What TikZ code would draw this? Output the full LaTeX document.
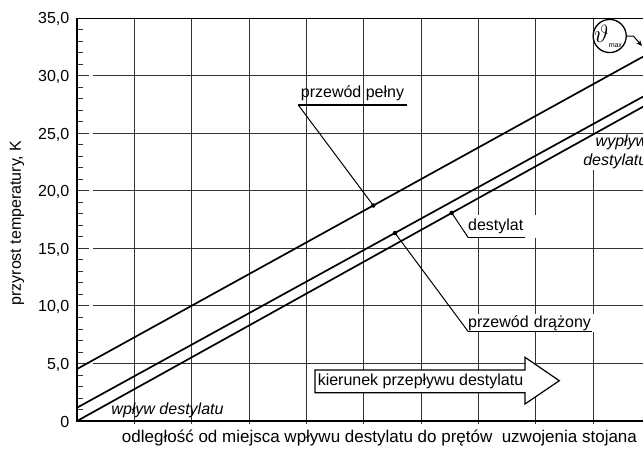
\documentclass[tikz,border=0pt]{standalone}
\usepackage{fontspec}
\setmainfont{Liberation Sans}
\usetikzlibrary{arrows.meta}
\begin{document}
\begin{tikzpicture}[x=1pt,y=-1pt, font=\fontsize{16}{19}\selectfont,
  gridline/.style={black!80, line width=0.9pt},
  dataline/.style={black, line width=1.7pt},
  leader/.style={black, line width=1pt},
  underl/.style={black, line width=1.3pt},
  lbl/.style={inner sep=1pt},
  boxlbl/.style={fill=white, inner xsep=2pt, inner ysep=0pt, align=left, anchor=west},
  ticklbl/.style={anchor=base east, inner sep=0pt},
  dotmark/.style={circle, fill=black, inner sep=0pt, minimum size=4.5pt}]
\useasboundingbox (0,0) rectangle (643,450);
\clip (0,0) rectangle (643,450);
\fill[white] (0,0) rectangle (643,450);

% grid
\foreach \i in {1,...,9} \draw[gridline] ({77+57.35*\i},18.3) -- ({77+57.35*\i},423.5);
\foreach \j in {1,...,6} \draw[gridline] (93,{421-57.53*\j}) -- (650,{421-57.53*\j});
\foreach \k in {1,...,34} \draw[gridline] (77,{421-11.506*\k}) -- (82.5,{421-11.506*\k});
\foreach \j in {1,...,6} \draw[gridline] (77,{421-57.53*\j}) -- (88.5,{421-57.53*\j});
\draw[line width=1.2pt] (77,18.3) -- (650,18.3);
\draw[line width=1.5pt] (77,18.3) -- (77,421);
\draw[line width=1.8pt] (76.2,421) -- (650,421);

% tick labels
\foreach \v/\j in {35/7,30/6,25/5,20/4,15/3,10/2,5/1}
  \node[ticklbl] (t\v) at (69.5,{421-57.53*\j+5.7}) {\v,0};
\node[ticklbl] (t0) at (69.5,427.2) {0};

% axis labels
\node[rotate=90] (ylab) at (17,223) {przyrost temperatury, K};
\node[font=\fontsize{17}{20}\selectfont] (xlab) at (379.5,438) {odległość od miejsca wpływu destylatu do prętów\ \ uzwojenia stojana};

% white label boxes
\node[boxlbl, text width=68pt, minimum height=23pt] (ldest) at (466,226) {destylat};
\node[boxlbl, text width=124pt, minimum height=18pt] (ldraz) at (466,323) {przewód drążony};
\node[fill=white, inner sep=1.5pt, align=right, anchor=east, font=\fontsize{16}{19}\selectfont\itshape] (lwyp) at (649,152) {wypływ\\destylatu};
\node[lbl] (lpeln) at (352.5,93) {przewód pełny};
\node[lbl, font=\fontsize{16}{19}\selectfont\itshape] (lwpl) at (167.5,410) {wpływ destylatu};

% data lines
\coordinate (a0) at (77,369);   \coordinate (a1) at (660,47.3);
\coordinate (b0) at (77,407.7); \coordinate (b1) at (660,87.3);
\coordinate (c0) at (77,421);   \coordinate (c1) at (660,97.3);
\draw[dataline] (a0) -- (a1);
\draw[dataline] (b0) -- (b1);
\draw[dataline] (c0) -- (c1);

% dots and leaders
\node[dotmark] (dp) at (373.3,205.5) {};
\node[dotmark] (dd) at (395,233.0) {};
\node[dotmark] (ds) at (451.7,212.9) {};
\coordinate (pa) at (298.3,105); \coordinate (pb) at (406.7,105);
\coordinate (sa) at (468.3,237.7); \coordinate (sb) at (525,237.7);
\coordinate (da) at (468.3,331.7); \coordinate (db) at (591.7,331.7);
\draw[leader] (dp.center) -- (pa); \draw[underl] (pa) -- (pb);
\draw[leader] (ds.center) -- (sa); \draw[underl] (sa) -- (sb);
\draw[leader] (dd.center) -- (da); \draw[underl] (da) -- (db);

% flow direction arrow
\draw[line width=1.2pt, fill=white] (315,370) -- (525,370) -- (525,357.3) -- (559.3,380.7)
  -- (525,404) -- (525,392.7) -- (315,392.7) -- cycle;
\node[inner sep=0pt] (kier) at (420.5,381.3) {kierunek przepływu destylatu};

% theta max marker
\node[circle, draw, fill=white, line width=1.3pt, minimum size=29pt, inner sep=0pt] (th) at (609.7,36)
  {\hspace{-3pt}\fontsize{24}{24}\selectfont$\vartheta$\raisebox{-5pt}{\fontsize{7}{7}\selectfont max}};
\coordinate (thk) at (633.3,36);
\coordinate (tht) at (642,46);
\draw[line width=1pt, -{Stealth[length=6pt,width=5pt]}] (th.east) -- (thk) -- (tht);
\end{tikzpicture}
\end{document}
